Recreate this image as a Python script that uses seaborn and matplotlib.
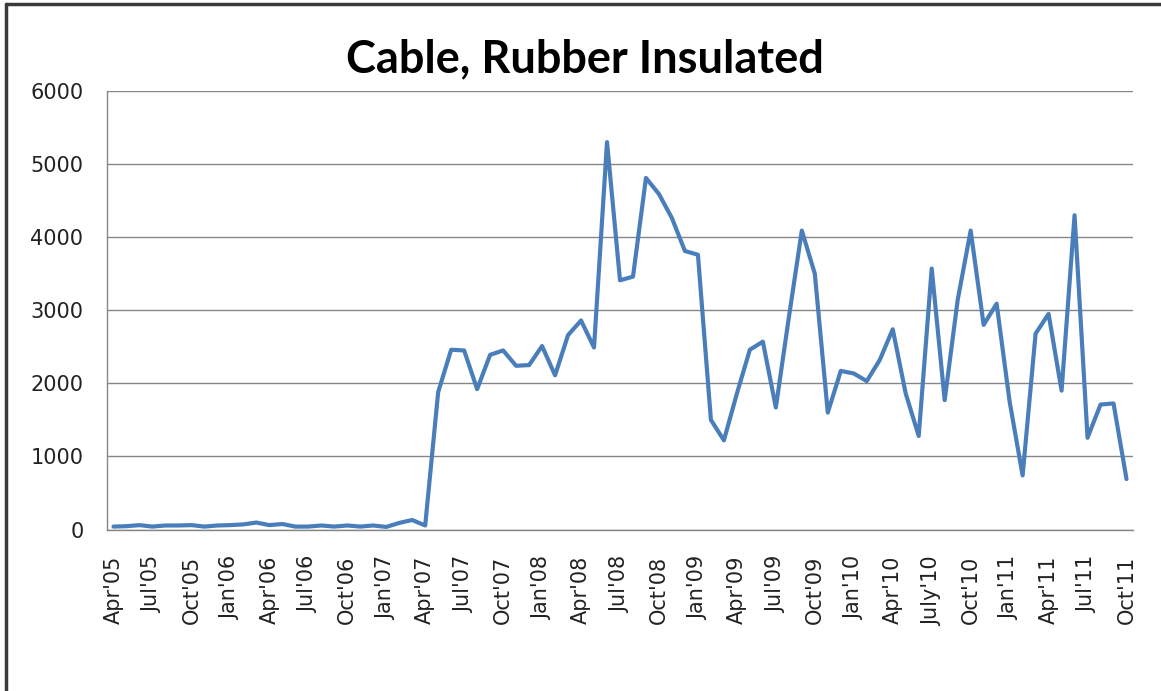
import matplotlib
matplotlib.use("Agg")
import matplotlib.pyplot as plt
import seaborn as sns
import numpy as np
from matplotlib.lines import Line2D

# monthly values, Apr'05 .. Oct'11
values_2005_07 = [40, 45, 60, 40, 55, 55, 60, 40, 55, 60, 70, 95, 60, 75, 40, 40,
                  55, 40, 55, 40, 55, 35, 90, 130, 55]
values_2007_09 = [1880, 2460, 2450, 1920, 2390, 2450, 2240, 2250, 2510, 2110, 2660,
                  2860, 2490, 5300, 3410, 3460, 4810, 4590, 4260, 3810, 3760, 1500,
                  1220, 1860, 2460, 2570, 1670]
values_2009_11 = [2900, 4090, 3500, 1600, 2170, 2135, 2030, 2320, 2740, 1860, 1280,
                  3570, 1770, 3140, 4090, 2800, 3090, 1750, 740, 2680, 2950, 1900,
                  4300, 1255, 1710, 1725, 690]
values = values_2005_07 + values_2007_09 + values_2009_11

tick_labels = ["Apr'05", "Jul'05", "Oct'05", "Jan'06", "Apr'06", "Jul'06", "Oct'06",
               "Jan'07", "Apr'07", "Jul'07", "Oct'07", "Jan'08", "Apr'08", "Jul'08",
               "Oct'08", "Jan'09", "Apr'09", "Jul'09", "Oct'09", "Jan'10", "Apr'10",
               "July'10", "Oct'10", "Jan'11", "Apr'11", "Jul'11", "Oct'11"]
y_ticks = [0, 1000, 2000, 3000, 4000, 5000, 6000]

sns.set_style("white")
plt.rcParams['font.family'] = ['DejaVu Sans']

grid_col = "#868686"
line_col = "#4A7EBB"

fig = plt.figure(figsize=(11.61, 6.91), dpi=100)
ax = fig.add_axes([107/1161, 1 - 529.5/691, (1133-107)/1161, (529.5-91)/691])

idx = np.arange(len(values))
sns.lineplot(x=idx, y=values, ax=ax, color=line_col, linewidth=3.0)

ax.set_xlim(-0.5, len(values) - 0.5)
ax.set_ylim(0, 6000)
ax.set_yticks(y_ticks)
ax.set_yticklabels([str(v) for v in y_ticks], fontsize=15, color="#222222")
ax.grid(axis="y", color=grid_col, linewidth=1.0)
ax.set_axisbelow(True)

ax.set_xticks(idx[::3])
ax.set_xticklabels(tick_labels, rotation=90, fontsize=15, color="#222222")
ax.set_xticks(np.arange(-0.5, len(values)), minor=True)
ax.tick_params(axis="x", which="major", length=0, pad=19)
ax.tick_params(axis="x", which="minor", length=6, color=grid_col, width=1)
ax.tick_params(axis="y", which="major", length=7, color=grid_col, width=1, pad=10)

for s in ["top", "right"]:
    ax.spines[s].set_visible(False)
for s in ["left", "bottom"]:
    ax.spines[s].set_color(grid_col)
    ax.spines[s].set_linewidth(1.0)

fig.text(585/1161, 1 - 59/691, "Cable, Rubber Insulated", ha="center", va="center",
         fontsize=32.5, fontweight="bold", color="black", family=["Lato", "DejaVu Sans"])

# outer chart frame (left and top edges visible)
fig.add_artist(Line2D([6/1161, 6/1161], [0, 1 - 4/691], transform=fig.transFigure,
                      color="#3a3a3a", linewidth=2.5))
fig.add_artist(Line2D([6/1161, 1], [1 - 4/691, 1 - 4/691], transform=fig.transFigure,
                      color="#3a3a3a", linewidth=2.5))

plt.savefig("out.png", dpi=100)
